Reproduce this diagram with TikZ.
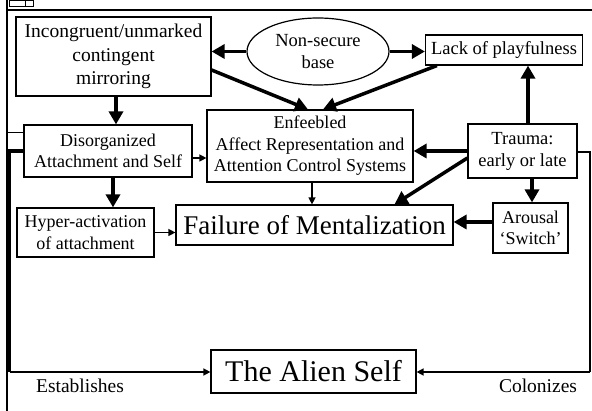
\documentclass[tikz,border=0pt]{standalone}
\usepackage{fontspec}
\setmainfont{Liberation Serif}
\usetikzlibrary{arrows.meta,shapes.geometric}
\begin{document}
\begin{tikzpicture}[x=1pt,y=-1pt,
  box/.style={draw,line width=1.2pt,inner sep=0pt,align=center,font=\fontsize{18}{21.5}\selectfont},
  thick arr/.style={line width=3.5pt,-{Triangle[length=13pt,width=14pt]}},
  thin arr/.style={line width=1.3pt,-{Triangle[length=7pt,width=7pt]}},
  frame/.style={line width=1.5pt}]
\useasboundingbox (0,0) rectangle (592,411);
% frame artifacts
\draw[frame] (7,0) -- (7,411);
\draw[line width=2pt] (7,10) -- (592,10);
\draw[line width=0.8pt] (9.5,0) rectangle (33,6);
\draw[line width=0.8pt] (25,0) -- (25,6);
% nodes
\node[box,minimum width=195pt,minimum height=79pt,font=\fontsize{19.5}{23.5}\selectfont] (inc) at (113.5,56.5) {Incongruent/unmarked\\contingent\\mirroring};
\node[draw,ellipse,line width=1.2pt,inner sep=0pt,minimum width=142pt,minimum height=67pt,align=center,font=\fontsize{18.5}{22}\selectfont] (ns) at (318,51.5) {Non-secure\\base};
\node[box,minimum width=157pt,minimum height=30pt,font=\fontsize{18.5}{22}\selectfont] (lack) at (504,50) {Lack of playfulness};
\node[box,minimum width=168pt,minimum height=52pt] (dis) at (108,151) {Disorganized\\Attachment and Self};
\node[box,minimum width=206pt,minimum height=72pt] (enf) at (310,146) {Enfeebled\\Affect Representation and\\Attention Control Systems};
\node[box,minimum width=109pt,minimum height=54pt,font=\fontsize{18.5}{22}\selectfont] (tr) at (522.5,151) {Trauma:\\early or late};
\node[box,minimum width=137pt,minimum height=49pt] (hyp) at (85.5,232.5) {Hyper-activation\\of attachment};
\node[box,minimum width=277pt,minimum height=40pt,font=\fontsize{27}{32}\selectfont] (fail) at (314.5,225) {Failure of Mentalization};
\node[box,minimum width=75pt,minimum height=50pt] (ar) at (530.5,228) {Arousal\\‘Switch’};
\node[box,minimum width=205pt,minimum height=43pt,font=\fontsize{30}{36}\selectfont] (alien) at (313.5,371.5) {The Alien Self};
\node[font=\fontsize{19.5}{23}\selectfont,inner sep=0pt] (est) at (80,386) {Establishes};
\node[font=\fontsize{19.5}{23}\selectfont,inner sep=0pt] (col) at (538,386) {Colonizes};
% thick arrows
\draw[thick arr] (ns.west) -- (ns.west -| inc.east);
\draw[thick arr] (ns.east) -- (ns.east -| lack.west);
\draw[thick arr] ([xshift=2.5pt]inc.south) -- ([xshift=2.5pt]inc.south |- dis.north);
\draw[thick arr] ([yshift=-13.5pt]inc.east) -- ([xshift=-2pt]enf.north);
\draw[thick arr] ([xshift=12pt]lack.south west) -- ([xshift=13pt]enf.north);
\draw[thick arr] ([xshift=5pt]dis.south) -- ([xshift=5pt]dis.south |- hyp.north);
\draw[thick arr] (tr.west) -- (tr.west -| enf.east);
\draw[thick arr] ([yshift=-7pt]tr.west) -- ([xshift=80pt]fail.north);
\draw[thick arr] ([xshift=9.5pt]tr.south) -- ([xshift=9.5pt]tr.south |- ar.north);
\draw[thick arr] ([xshift=5.5pt]tr.north) -- ([xshift=5.5pt]tr.north |- lack.south);
\draw[thick arr] ([yshift=6pt]ar.west) -- ([yshift=6pt]ar.west -| fail.east);
% thin arrows
\draw[thin arr] ([yshift=-7pt]dis.east) -- ([yshift=-7pt]dis.east -| enf.west);
\draw[thin arr] (hyp.east) -- (hyp.east -| fail.west);
\draw[thin arr] ([xshift=2pt]enf.south) -- ([xshift=2pt]enf.south |- fail.north);
% frame connectors
\coordinate (lt) at (9.5,151);
\coordinate (lb) at (9.5,372);
\coordinate (rt) at (590,152);
\coordinate (rb) at (590,372);
\draw[line width=1pt] ([yshift=18pt]dis.west) -- ([yshift=18pt]dis.west -| 7,0);
\draw[line width=3.2pt] (dis.west) -- (lt) -- (lb);
\draw[thin arr,line width=1.5pt] (lb) -- (lb -| alien.west);
\draw[line width=1.2pt] (tr.east |- rt) -- (rt) -- (rb);
\draw[thin arr,line width=1.5pt] (rb) -- (rb -| alien.east);
\end{tikzpicture}
\end{document}
